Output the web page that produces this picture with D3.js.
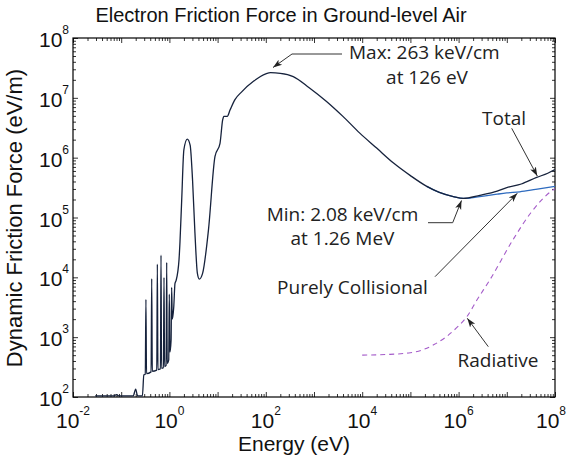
<!DOCTYPE html>
<html>
<head>
<meta charset="utf-8">
<script src="https://cdn.jsdelivr.net/npm/d3@7"></script>
<style>
  html, body { margin: 0; padding: 0; background: #fff; }
  svg { display: block; }
</style>
</head>
<body>
<svg id="chart" width="567" height="462"></svg>
<script>
// ---- Data (log10 values) ----
const xTickExponents = [-2, 0, 2, 4, 6, 8];
const yTickExponents = [2, 3, 4, 5, 6, 7, 8];

// Total friction force: log10(Energy eV), log10(Force eV/m)
const totalLogE = [
  -1.54, -1.30, -1.15, -1.10, -1.05, -0.75, -0.70, -0.66, -0.56, -0.53,
  -0.50, -0.487, -0.475, -0.38, -0.367, -0.355, -0.262, -0.25, -0.238,
  -0.186, -0.174, -0.163, -0.124, -0.112, -0.10, -0.068, -0.056, -0.045,
  -0.014, -0.002, 0.01, 0.035, 0.047, 0.06, 0.09, 0.116, 0.14, 0.20, 0.22,
  0.255, 0.30, 0.37, 0.43, 0.48, 0.53, 0.58, 0.62, 0.69, 0.81, 0.946, 1.05,
  1.105, 1.13, 1.20, 1.26, 1.36, 1.50, 1.75, 2.00, 2.10, 2.30, 2.57, 2.90,
  3.26, 3.60, 3.95, 4.30, 4.65, 5.00, 5.34, 5.60, 5.89, 6.10, 6.44, 6.80,
  7.00, 7.30, 7.62, 7.85, 8.00
];
const totalLogF = [
  2.02, 2.02, 2.02, 2.04, 2.02, 2.02, 2.13, 2.02, 2.02, 2.37,
  2.38, 3.63, 2.39, 2.42, 3.98, 2.43, 2.45, 4.22, 2.46,
  2.47, 4.37, 2.48, 2.49, 4.00, 2.51, 2.53, 4.25, 2.56,
  2.62, 3.72, 2.75, 2.95, 3.83, 3.30, 3.50, 3.90, 3.95, 4.30, 4.60,
  5.29, 6.13, 6.31, 6.21, 5.63, 4.74, 4.07, 3.97, 4.07, 4.79, 6.02, 6.24,
  6.63, 6.69, 6.69, 6.80, 6.97, 7.10, 7.28, 7.40, 7.42, 7.41, 7.356, 7.17,
  6.94, 6.69, 6.41, 6.16, 5.91, 5.70, 5.52, 5.42, 5.35, 5.318, 5.37, 5.44,
  5.50, 5.56, 5.67, 5.74, 5.80
];

// Purely collisional
const collLogE = [5.34, 5.60, 5.89, 6.10, 6.44, 6.80, 7.00, 7.27, 7.60, 8.00];
const collLogF = [5.52, 5.42, 5.35, 5.318, 5.35, 5.39, 5.41, 5.43, 5.47, 5.52];

// Radiative
const radLogE = [4.00, 4.50, 5.00, 5.26, 5.50, 5.75, 6.00, 6.17, 6.38, 6.65, 7.13, 7.50, 7.96, 8.00];
const radLogF = [2.70, 2.71, 2.74, 2.79, 2.88, 3.01, 3.19, 3.34, 3.62, 3.96, 4.63, 5.08, 5.46, 5.48];

// ---- Chart ----
const svg = d3.select("#chart");
const L = 73, R = 555, T = 38, B = 397;
const x = d3.scaleLog().domain([1e-2, 1e8]).range([L, R]);
const y = d3.scaleLog().domain([1e2, 1e8]).range([B, T]);

const toPts = (le, lf) => le.map((e, i) => [Math.pow(10, e), Math.pow(10, lf[i])]);
const line = d3.line().x(d => x(d[0])).y(d => y(d[1])).curve(d3.curveMonotoneX);

svg.append("defs").append("clipPath").attr("id", "clip")
  .append("rect").attr("x", L).attr("y", T).attr("width", R - L).attr("height", B - T);

// Ticks
const majors = d3.range(-2, 9).map(e => Math.pow(10, e));
const minorsX = [];
for (let e = -2; e < 8; e++) for (let k = 2; k <= 9; k++) minorsX.push(k * Math.pow(10, e));
const minorsY = [];
for (let e = 2; e < 8; e++) for (let k = 2; k <= 9; k++) minorsY.push(k * Math.pow(10, e));
const majorsY = d3.range(2, 9).map(e => Math.pow(10, e));

function addAxis(axisGen, transform, vals, size) {
  const g = svg.append("g").attr("transform", transform)
    .call(axisGen.tickValues(vals).tickSizeInner(size).tickSizeOuter(0).tickFormat(""));
  g.select(".domain").remove();
  g.selectAll(".tick line").attr("stroke", "#000").attr("stroke-width", 0.8);
}
addAxis(d3.axisBottom(x), `translate(0,${B})`, majors, -5);
addAxis(d3.axisBottom(x), `translate(0,${B})`, minorsX, -3);
addAxis(d3.axisTop(x), `translate(0,${T})`, majors, -5);
addAxis(d3.axisTop(x), `translate(0,${T})`, minorsX, -3);
addAxis(d3.axisLeft(y), `translate(${L},0)`, majorsY, -5);
addAxis(d3.axisLeft(y), `translate(${L},0)`, minorsY, -3);
addAxis(d3.axisRight(y), `translate(${R},0)`, majorsY, -5);
addAxis(d3.axisRight(y), `translate(${R},0)`, minorsY, -3);

// Frame
svg.append("rect").attr("x", L).attr("y", T).attr("width", R - L).attr("height", B - T)
  .attr("fill", "none").attr("stroke", "#000").attr("stroke-width", 1.2);

// Series
const plot = svg.append("g").attr("clip-path", "url(#clip)");
plot.append("path").datum(toPts(radLogE, radLogF)).attr("d", line)
  .attr("fill", "none").attr("stroke", "#a45bc9").attr("stroke-width", 1.1)
  .attr("stroke-dasharray", "5,4");
plot.append("path").datum(toPts(collLogE, collLogF)).attr("d", line)
  .attr("fill", "none").attr("stroke", "#2e6bbf").attr("stroke-width", 1.3);
plot.append("path").datum(toPts(totalLogE, totalLogF)).attr("d", line)
  .attr("fill", "none").attr("stroke", "#16223c").attr("stroke-width", 1.3).attr("stroke-linejoin", "round");

// Tick labels
const tickFont = "'Liberation Sans', Arial, Helvetica, sans-serif";
xTickExponents.forEach((e, i) => {
  const last = i === xTickExponents.length - 1;
  const t = svg.append("text").attr("x", last ? 566 : x(Math.pow(10, e))).attr("y", B + 31)
    .attr("text-anchor", last ? "end" : "middle").attr("font-family", tickFont).attr("font-size", 21).attr("fill", "#111");
  t.append("tspan").text("10");
  t.append("tspan").attr("dy", -13).attr("font-size", 12).text(String(e));
});
yTickExponents.forEach(e => {
  const t = svg.append("text").attr("x", L - 4).attr("y", y(Math.pow(10, e)) + 9)
    .attr("text-anchor", "end").attr("font-family", tickFont).attr("font-size", 21).attr("fill", "#111");
  t.append("tspan").text("10");
  t.append("tspan").attr("dy", -13).attr("font-size", 12).text(String(e));
});

// Titles
svg.append("text").attr("x", 281).attr("y", 22).attr("text-anchor", "middle")
  .attr("font-family", tickFont).attr("font-size", 20).attr("fill", "#111")
  .text("Electron Friction Force in Ground-level Air");
svg.append("text").attr("x", 294).attr("y", 451).attr("text-anchor", "middle")
  .attr("font-family", tickFont).attr("font-size", 21).attr("fill", "#111")
  .text("Energy (eV)");
svg.append("text").attr("transform", "translate(22,218) rotate(-90)").attr("text-anchor", "middle")
  .attr("font-family", tickFont).attr("font-size", 22).attr("fill", "#111")
  .text("Dynamic Friction Force (eV/m)");

// Annotations
const defs = svg.select("defs");
defs.append("marker").attr("id", "arr").attr("viewBox", "0 0 10 10").attr("refX", 10).attr("refY", 5)
  .attr("markerWidth", 9).attr("markerHeight", 9).attr("markerUnits", "userSpaceOnUse").attr("orient", "auto")
  .append("path").attr("d", "M0,1.5 L10,5 L0,8.5 L2.5,5 Z").attr("fill", "#222");

const annFont = "'Open Sans', 'Noto Sans', sans-serif";
function ann(txt, xx, yy, anchor) {
  svg.append("text").attr("x", xx).attr("y", yy).attr("text-anchor", anchor || "start")
    .attr("font-family", annFont).attr("font-size", 19).attr("fill", "#222").text(txt);
}
function arrow(pts) {
  svg.append("path").attr("d", d3.line()(pts)).attr("fill", "none")
    .attr("stroke", "#333").attr("stroke-width", 1).attr("marker-end", "url(#arr)");
}
ann("Max: 263 keV/cm", 349, 59);
ann("at 126 eV", 427, 84, "middle");
arrow([[342, 54], [292, 54], [273, 67.5]]);

ann("Min: 2.08 keV/cm", 342.5, 221, "middle");
ann("at 1.26 MeV", 342.5, 245, "middle");
arrow([[428, 222.7], [452.7, 222.7], [461.5, 200.5]]);

ann("Total", 504, 125, "middle");
arrow([[511.7, 128.3], [537.3, 176]]);

ann("Purely Collisional", 352.5, 294, "middle");
arrow([[435, 276.7], [517.3, 193.3]]);

ann("Radiative", 498, 367, "middle");
arrow([[488.3, 346.7], [467.3, 318.3]]);
</script>
</body>
</html>
